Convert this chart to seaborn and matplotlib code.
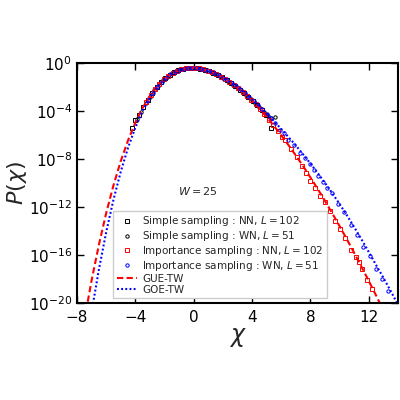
import numpy as np
import pandas as pd
import matplotlib
matplotlib.use('Agg')
import matplotlib.pyplot as plt
import seaborn as sns

# Tracy-Widom curves, values as log10 P(chi)
chi_gue = [-7.5, -7.0, -6.5, -6.0, -5.5, -5.0, -4.5, -4.0, -3.5, -3.0,
           -2.5, -2.0, -1.5, -1.0, -0.5, 0.0, 0.5, 1.0, 1.5, 2.0,
           2.5, 3.0, 3.5, 4.0, 4.5, 5.0, 5.5, 6.0, 6.5, 7.0,
           7.5, 8.0, 8.5, 9.0, 9.5, 10.0, 10.5, 11.0, 11.5, 12.0,
           12.5, 13.0]
logp_gue = [-21.46, -18.12, -15.15, -12.51, -10.19, -8.17, -6.44, -4.96, -3.74, -2.73,
            -1.93, -1.31, -0.87, -0.585, -0.432, -0.405, -0.476, -0.65, -0.906, -1.236,
            -1.63, -2.07, -2.56, -3.12, -3.78, -4.50, -5.25, -6.03, -6.85, -7.71,
            -8.60, -9.54, -10.50, -11.50, -12.54, -13.60, -14.70, -15.83, -16.98, -18.17,
            -19.38, -20.62]

chi_goe = [-7.0, -6.5, -6.0, -5.5, -5.0, -4.5, -4.0, -3.5, -3.0, -2.5,
           -2.0, -1.5, -1.0, -0.5, 0.0, 0.5, 1.0, 1.5, 2.0, 2.5,
           3.0, 3.5, 4.0, 4.5, 5.0, 5.5, 6.0, 6.5, 7.0, 7.5,
           8.0, 8.5, 9.0, 9.5, 10.0, 10.5, 11.0, 11.5, 12.0, 12.5,
           13.0, 13.5, 14.0]
logp_goe = [-20.75, -17.21, -14.10, -11.39, -9.05, -7.05, -5.38, -3.99, -2.87, -2.00,
            -1.33, -0.864, -0.576, -0.425, -0.399, -0.484, -0.661, -0.912, -1.227, -1.60,
            -2.00, -2.50, -3.05, -3.62, -4.22, -4.85, -5.50, -6.18, -6.88, -7.62,
            -8.38, -9.18, -10.00, -10.86, -11.76, -12.70, -13.68, -14.70, -15.76, -16.84,
            -17.90, -19.00, -20.15]

# simple sampling, NN, L=102 (black squares)
chi_snn = [-4.21, -4.03, -3.75, -3.45, -3.15, -2.85, -2.55, -2.25, -1.95, -1.65,
           -1.35, -1.05, -0.75, -0.45, -0.15, 0.15, 0.45, 0.75, 1.05, 1.35,
           1.65, 1.95, 2.25, 2.55, 2.85, 3.15, 3.45, 3.75, 4.05, 4.35,
           4.65, 4.95, 5.27]
logp_snn = [-5.39, -4.75, -4.30, -3.65, -3.05, -2.50, -2.02, -1.62, -1.27, -0.99,
            -0.77, -0.61, -0.50, -0.43, -0.41, -0.42, -0.47, -0.56, -0.67, -0.82,
            -1.00, -1.20, -1.43, -1.68, -1.94, -2.23, -2.52, -2.84, -3.17, -3.50,
            -3.95, -4.35, -5.44]

# simple sampling, WN, L=51 (black circles)
chi_swn = [-3.9, -3.6, -3.3, -3.0, -2.7, -2.4, -2.1, -1.8, -1.5, -1.2,
           -0.9, -0.6, -0.3, 0.0, 0.3, 0.6, 0.9, 1.2, 1.5, 1.8,
           2.1, 2.4, 2.7, 3.0, 3.3, 3.6, 3.9, 4.2, 4.5, 4.8,
           5.1, 5.33, 5.56]
logp_swn = [-4.70, -4.05, -3.30, -2.80, -2.25, -1.82, -1.45, -1.13, -0.87, -0.68,
            -0.54, -0.45, -0.41, -0.40, -0.44, -0.51, -0.61, -0.74, -0.91, -1.10,
            -1.31, -1.55, -1.80, -2.05, -2.33, -2.66, -3.00, -3.30, -3.70, -4.05,
            -4.45, -4.60, -4.47]

# importance sampling, NN, L=102 (red squares)
chi_inn = [-3.25, -2.95, -2.65, -2.35, -2.05, -1.75, -1.45, -1.15, -0.85, -0.55,
           -0.25, 0.05, 0.35, 0.65, 0.95, 1.25, 1.55, 1.85, 2.15, 2.45,
           2.75, 3.05, 3.35, 3.65, 3.95, 4.25, 4.55, 4.85, 5.15, 5.45,
           5.75, 6.05, 6.25, 6.7, 7.05, 7.4, 7.7, 7.96, 8.3, 8.65,
           9.0, 9.33, 9.7, 10.05, 10.4, 10.8, 11.1, 11.3, 11.55, 11.85,
           12.2]
logp_inn = [-3.22, -2.64, -2.16, -1.74, -1.37, -1.08, -0.84, -0.66, -0.53, -0.44,
            -0.41, -0.40, -0.45, -0.52, -0.63, -0.77, -0.94, -1.13, -1.35, -1.59,
            -1.85, -2.12, -2.41, -2.73, -3.07, -3.45, -3.86, -4.29, -4.74, -5.20,
            -5.68, -6.15, -6.42, -7.15, -7.85, -8.62, -9.15, -9.80, -10.45, -11.05,
            -11.55, -12.35, -13.15, -13.85, -14.60, -15.55, -16.15, -16.60, -17.20, -18.05,
            -18.80]

# importance sampling, WN, L=51 (blue circles)
chi_iwn = [-3.1, -2.8, -2.5, -2.2, -1.9, -1.6, -1.3, -1.0, -0.7, -0.4,
           -0.1, 0.2, 0.5, 0.8, 1.1, 1.4, 1.7, 2.0, 2.3, 2.6,
           2.9, 3.2, 3.5, 3.8, 4.1, 4.4, 4.7, 5.0, 5.3, 5.6,
           5.9, 6.2, 6.47, 6.85, 7.27, 7.6, 7.95, 8.25, 8.53, 8.85,
           9.15, 9.45, 9.9, 10.3, 10.8, 11.2, 11.6, 12.05, 12.5, 12.9,
           13.3]
logp_iwn = [-3.08, -2.50, -2.01, -1.60, -1.23, -0.95, -0.74, -0.58, -0.48, -0.42,
            -0.40, -0.42, -0.48, -0.58, -0.70, -0.86, -1.03, -1.23, -1.45, -1.68,
            -1.92, -2.19, -2.48, -2.82, -3.16, -3.50, -3.86, -4.22, -4.62, -5.00,
            -5.55, -5.85, -6.40, -6.85, -7.50, -7.95, -8.45, -8.95, -9.45, -9.90,
            -10.40, -10.86, -11.75, -12.40, -13.50, -14.30, -15.30, -16.10, -17.20, -18.00,
            -19.00]

x_ticks = [-8, -4, 0, 4, 8, 12]
y_ticks = [1e-20, 1e-16, 1e-12, 1e-8, 1e-4, 1e0]

sns.set_style('ticks')
plt.rcParams['font.family'] = ['DejaVu Sans']
plt.rcParams['mathtext.fontset'] = 'dejavusans'

fig = plt.figure(figsize=(4, 4), dpi=100)
ax = fig.add_axes([0.1925, 0.2425, 0.8025, 0.60])
ax.set_yscale('log')


def draw_points(chi, logp, marker, color, label):
    df = pd.DataFrame({'chi': chi, 'P': 10.0 ** np.array(logp)})
    sns.lineplot(data=df, x='chi', y='P', ax=ax, linestyle='none', marker=marker,
                 markersize=2.4, markerfacecolor='none', markeredgecolor=color,
                 markeredgewidth=0.7, color=color, label=label, sort=False,
                 estimator=None)


draw_points(chi_snn, logp_snn, 's', 'black', r'Simple sampling : NN, $L=102$')
draw_points(chi_swn, logp_swn, 'o', 'black', r'Simple sampling : WN, $L=51$')
draw_points(chi_inn, logp_inn, 's', 'red', r'Importance sampling : NN, $L=102$')
draw_points(chi_iwn, logp_iwn, 'o', 'blue', r'Importance sampling : WN, $L=51$')

# theory curves on top
curves = pd.DataFrame({'chi': chi_gue, 'P': 10.0 ** np.array(logp_gue)})
sns.lineplot(data=curves, x='chi', y='P', ax=ax, color='red', linewidth=1.5,
             linestyle=(0, (3, 1.6)), label='GUE-TW', estimator=None)
curves = pd.DataFrame({'chi': chi_goe, 'P': 10.0 ** np.array(logp_goe)})
sns.lineplot(data=curves, x='chi', y='P', ax=ax, color='blue', linewidth=1.5,
             linestyle=(0, (0.9, 1.1)), label='GOE-TW', estimator=None)

ax.text(0.3, 10 ** -10.67, r'$W=25$', fontsize=8, ha='center', va='center')

ax.set_xlim(-8, 14)
ax.set_ylim(1e-20, 1e0)
ax.set_xticks(x_ticks)
ax.set_yticks(y_ticks)
ax.minorticks_off()
ax.tick_params(direction='in', length=5, width=1, top=True, right=True,
               labelsize=11, colors='black')
ax.tick_params(axis='x', pad=5)
for sp in ax.spines.values():
    sp.set_visible(True)
    sp.set_linewidth(1.5)
    sp.set_color('black')

ax.set_xlabel(r'$\chi$', fontsize=17, labelpad=0)
ax.set_ylabel(r'$P(\chi)$', fontsize=16, labelpad=0)

ax.legend(loc='lower left', bbox_to_anchor=(0.112, 0.02), borderaxespad=0,
          fontsize=7.5, numpoints=1, handlelength=2.0, labelspacing=0.08,
          handletextpad=0.45, borderpad=0.35, frameon=True, edgecolor='0.8',
          fancybox=False, framealpha=1)

fig.savefig('out.png', dpi=100)
